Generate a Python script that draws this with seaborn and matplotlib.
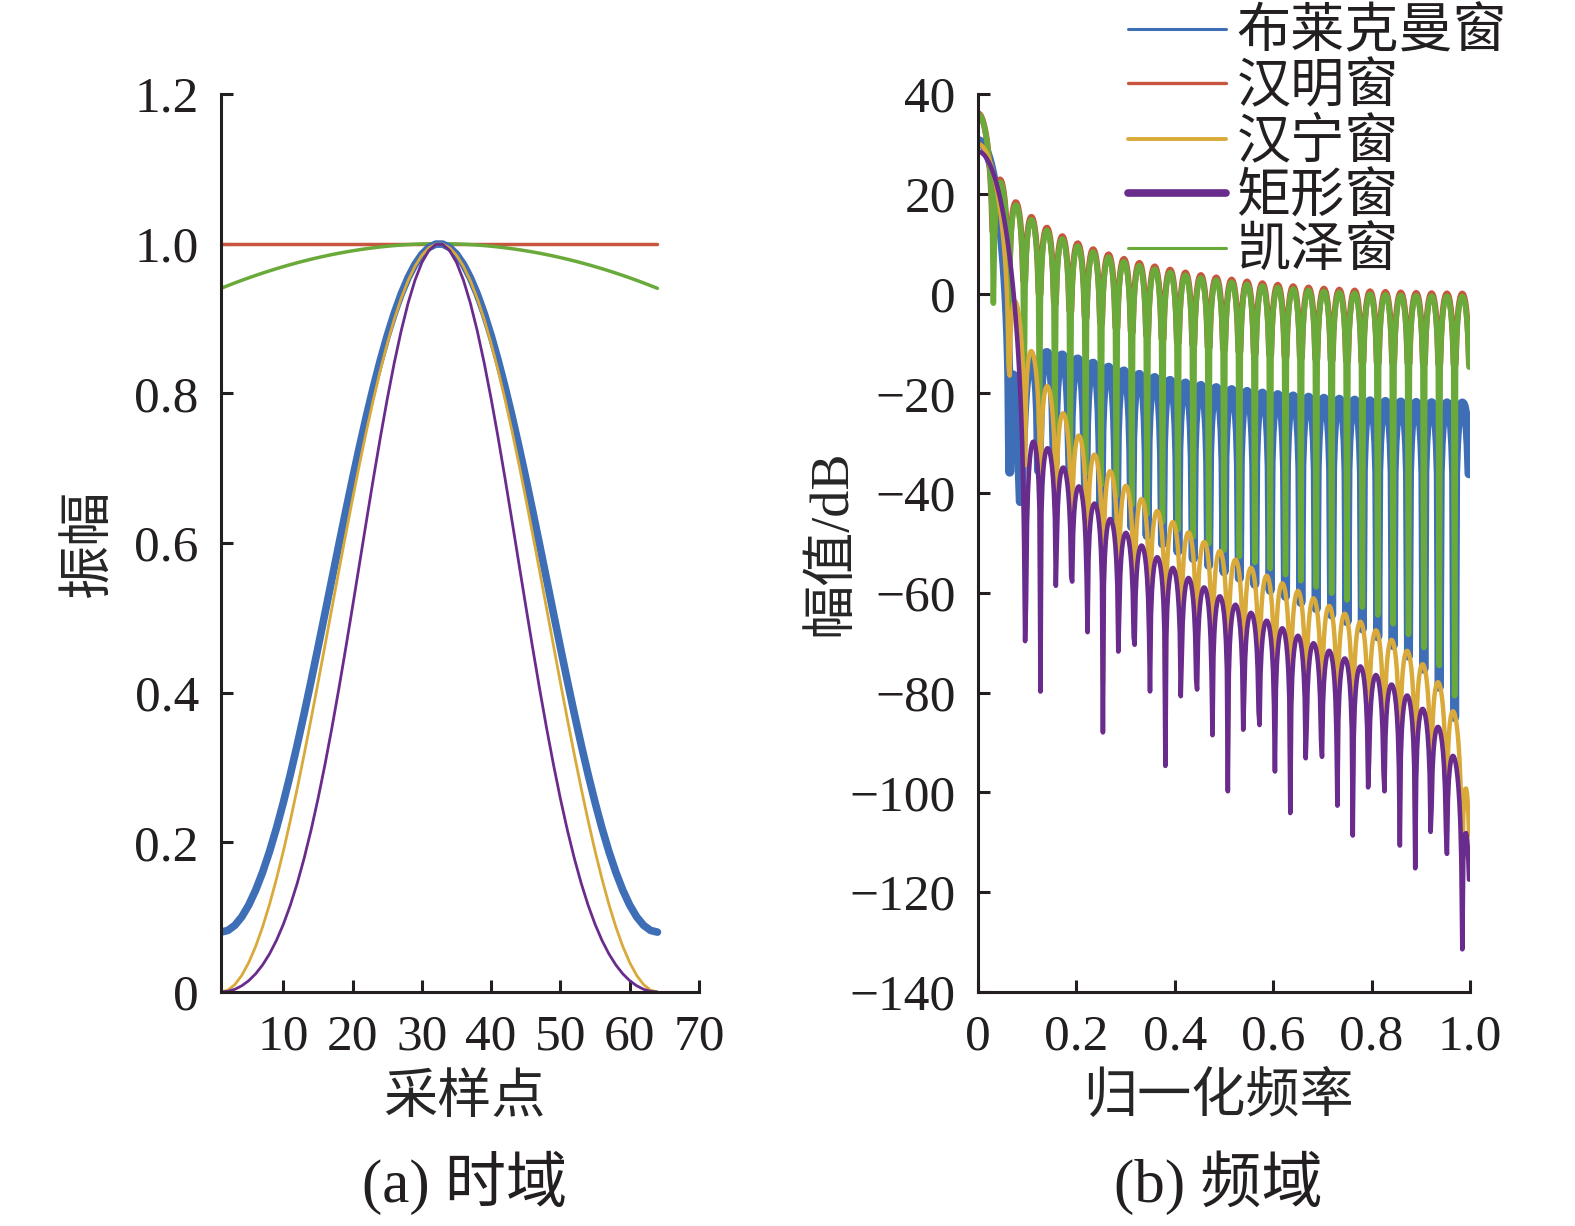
import numpy as np
import seaborn as sns
import matplotlib.pyplot as plt
from matplotlib.lines import Line2D

sns.set_style("ticks")
plt.rcParams["font.family"] = ["Liberation Serif", "Noto Sans CJK SC"]
plt.rcParams["axes.unicode_minus"] = True

# ---- data ----
labels = ["布莱克曼窗", "汉明窗", "汉宁窗", "矩形窗", "凯泽窗"]
colors = ["#3d6eb6", "#c8553d", "#d9a93a", "#6a2c8c", "#6aaa3a"]

n_samples = 64       # 采样点数
kaiser_beta = 0.5    # 凯泽窗参数
n_freq = 512         # 频率点数

# curve shapes as they appear under each colour in the figure
samples = np.arange(1, n_samples + 1)
win_blue = np.hamming(n_samples)
win_red = np.ones(n_samples)
win_yellow = np.hanning(n_samples)
win_purple = np.blackman(n_samples)
win_green = np.kaiser(n_samples, kaiser_beta)

x1_ticks = [10, 20, 30, 40, 50, 60, 70]
y1_ticks = [0, 0.2, 0.4, 0.6, 0.8, 1.0, 1.2]
y1_ticklabels = ["0", "0.2", "0.4", "0.6", "0.8", "1.0", "1.2"]
x2_ticks = [0, 0.2, 0.4, 0.6, 0.8, 1.0]
x2_ticklabels = ["0", "0.2", "0.4", "0.6", "0.8", "1.0"]
y2_ticks = [-140, -120, -100, -80, -60, -40, -20, 0, 20, 40]


def spectrum_db(w):
    H = np.abs(np.fft.fft(w, 2 * n_freq)[:n_freq])
    H = np.where(H > 1e-9, H, np.nan)
    return 20 * np.log10(H)


freq = np.arange(n_freq) / n_freq

# ---- figure ----
W, Hpx = 1575, 1226
fig = plt.figure(figsize=(W / 100, Hpx / 100), dpi=100)
ax1 = fig.add_axes([221 / W, 1 - 992 / Hpx, 478 / W, 898 / Hpx])
ax2 = fig.add_axes([978 / W, 1 - 992 / Hpx, 492 / W, 898 / Hpx])

# (a) 时域
td = [(win_red, colors[1], 2.5), (win_green, colors[4], 2.5),
      (win_blue, colors[0], 5.5), (win_yellow, colors[2], 2.0),
      (win_purple, colors[3], 2.0)]
for w, c, lw in td:
    sns.lineplot(x=samples, y=w, ax=ax1, color=c, lw=lw, estimator=None, legend=False)

# (b) 频域
fd = [(win_blue, colors[0], 6.5), (win_red, colors[1], 4.4),
      (win_green, colors[4], 4.0), (win_yellow, colors[2], 3.2),
      (win_purple, colors[3], 3.3)]
for w, c, lw in fd:
    sns.lineplot(x=freq, y=spectrum_db(w), ax=ax2, color=c, lw=lw, estimator=None, legend=False)

ax1.set_xlim(1, 70)
ax1.set_ylim(0, 1.2)
ax1.set_xticks(x1_ticks)
ax1.set_yticks(y1_ticks)
ax1.set_yticklabels(y1_ticklabels)

ax2.set_xlim(0, 1)
ax2.set_ylim(-140, 40)
ax2.set_xticks(x2_ticks)
ax2.set_xticklabels(x2_ticklabels)
ax2.set_yticks(y2_ticks)
ax2.set_yticklabels([str(v).replace("-", "\u2212") for v in y2_ticks])

ink = "#231f20"
for ax in (ax1, ax2):
    for s in ("top", "right"):
        ax.spines[s].set_visible(False)
    for s in ("left", "bottom"):
        ax.spines[s].set_linewidth(2.2)
        ax.spines[s].set_color(ink)
    ax.tick_params(axis="both", direction="in", length=8.5, width=2.2,
                   color=ink, labelcolor=ink, labelsize=37, pad=16)

ax1.set_xlabel("采样点", fontsize=39)
ax1.set_ylabel("振幅", fontsize=39)
ax2.set_xlabel("归一化频率", fontsize=39)
ax2.set_ylabel("幅值/dB", fontsize=39)
for ax, xl, yl in ((ax1, (0.51, -0.12), (-0.274, 0.5)),
                   (ax2, (0.488, -0.118), (-0.297, 0.5))):
    ax.xaxis.set_label_coords(*xl)
    ax.xaxis.label.set_va("center")
    ax.yaxis.set_label_coords(*yl)
    ax.yaxis.label.set_va("center")

fig.text(465 / W, 1 - 1183 / Hpx, "(a) 时域", fontsize=44, ha="center", va="center", color=ink)
fig.text(1218 / W, 1 - 1183 / Hpx, "(b) 频域", fontsize=44, ha="center", va="center", color=ink)

# legend
handle_lw = [2.2, 2.4, 2.8, 5.5, 2.2]
handles = [Line2D([0], [0], color=c, lw=lw) for c, lw in zip(colors, handle_lw)]
leg = fig.legend(handles, labels, loc="upper left", bbox_to_anchor=(1128 / W, 1 - 9 / Hpx),
                 frameon=False, fontsize=39, handlelength=1.8, handletextpad=0.2,
                 labelspacing=0.08, borderpad=0, borderaxespad=0)
for t in leg.get_texts():
    t.set_color(ink)

fig.savefig("out.png", dpi=100)
